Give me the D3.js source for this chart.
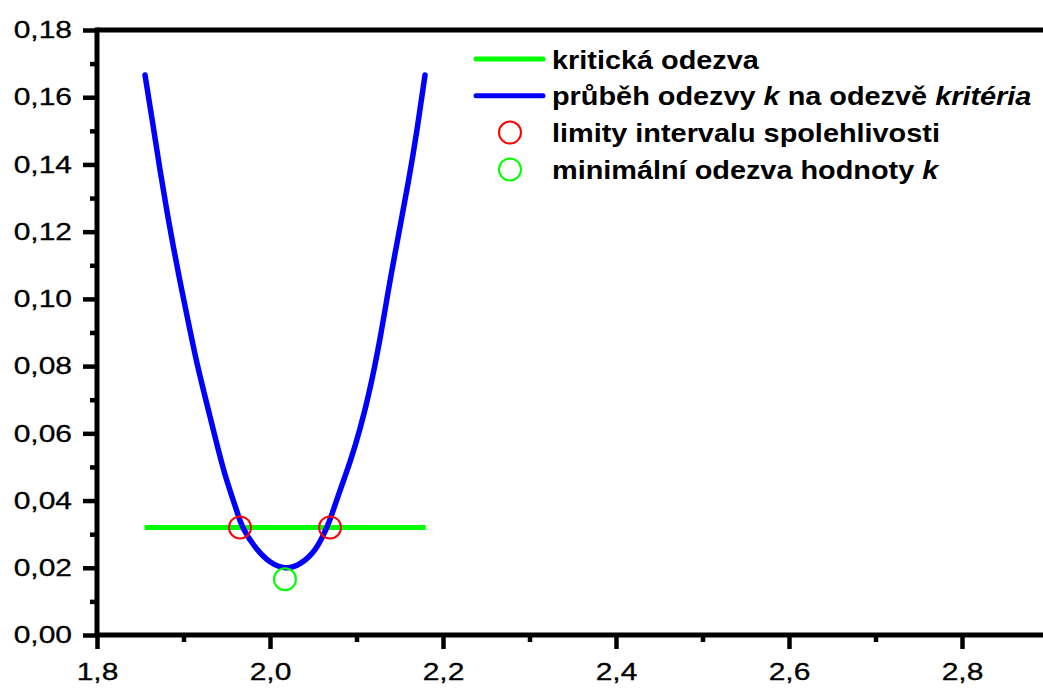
<!DOCTYPE html>
<html>
<head>
<meta charset="utf-8">
<script src="https://cdn.jsdelivr.net/npm/d3@7"></script>
<style>
  html, body { margin: 0; padding: 0; background: #fff; }
  svg { display: block; font-family: "Liberation Sans", Arial, sans-serif; }
</style>
</head>
<body>
<svg id="chart" width="1043" height="689"></svg>
<script>
// ==================
// Data
// ==================
const curveX = [1.8555, 1.8651, 1.8728, 1.8806, 1.8882, 1.8979, 1.9075, 1.9153, 1.9249, 1.9364,
  1.9480, 1.9615, 1.9673, 1.9846, 2.0000, 2.0180, 2.0347, 2.0540, 2.0655, 2.0694,
  2.0809, 2.0925, 2.1040, 2.1156, 2.1272, 2.1368, 2.1425, 2.1503, 2.1599, 2.1696, 2.1792];
const curveY = [0.1666, 0.1512, 0.1383, 0.1264, 0.1155, 0.1026, 0.0907, 0.0809, 0.0709, 0.0590,
  0.0471, 0.0372, 0.0319, 0.0253, 0.0214, 0.0195, 0.0208, 0.0253, 0.0319, 0.0342,
  0.0431, 0.0512, 0.0610, 0.0729, 0.0878, 0.1026, 0.1107, 0.1215, 0.1345, 0.1494, 0.1666];

const criticalX = [1.855, 2.180];
const criticalY = [0.032, 0.032];

const limitX = [1.9653, 2.0694];
const limitY = [0.032, 0.032];

const minX = [2.0173];
const minY = [0.0166];

const xTicks = [1.8, 2.0, 2.2, 2.4, 2.6, 2.8];
const xMinorTicks = [1.9, 2.1, 2.3, 2.5, 2.7, 2.9];
const yTicks = [0, 0.02, 0.04, 0.06, 0.08, 0.10, 0.12, 0.14, 0.16, 0.18];
const yMinorTicks = [0.01, 0.03, 0.05, 0.07, 0.09, 0.11, 0.13, 0.15, 0.17];

const legendLabels = [
  [{ t: 'kritická odezva' }],
  [{ t: 'průběh odezvy ' }, { t: 'k', i: true }, { t: ' na odezvě ' }, { t: 'kritéria', i: true }],
  [{ t: 'limity intervalu spolehlivosti' }],
  [{ t: 'minimální odezva hodnoty ' }, { t: 'k', i: true }]
];

const GREEN = '#00ff00';
const BLUE = '#0000ff';
const RED = '#ff0000';

// ==================
// Layout
// ==================
const AXIS_LEFT = 97;
const AXIS_BOTTOM = 635;
const AXIS_TOP = 30;
const PX_PER_X = 173 / 0.2;
const TEXT_STRETCH = 1.25;

const svg = d3.select('#chart');

const xScale = d3.scaleLinear()
  .domain([1.8, 3.0])
  .range([AXIS_LEFT, AXIS_LEFT + 1.2 * PX_PER_X]);

const yScale = d3.scaleLinear()
  .domain([0, 0.18])
  .range([AXIS_BOTTOM, AXIS_TOP]);

const comma = (fmt) => (v) => d3.format(fmt)(v).replace('.', ',');

// ==================
// Axes
// ==================
const xAxisGroup = svg.append('g')
  .attr('transform', `translate(0, ${AXIS_BOTTOM})`)
  .call(d3.axisBottom(xScale).tickValues(xTicks).tickSize(14).tickPadding(14).tickFormat(comma('.1f')));

const xMinorGroup = svg.append('g')
  .attr('transform', `translate(0, ${AXIS_BOTTOM})`)
  .call(d3.axisBottom(xScale).tickValues(xMinorTicks).tickSize(7).tickFormat(''));

const yAxisGroup = svg.append('g')
  .attr('transform', `translate(${AXIS_LEFT}, 0)`)
  .call(d3.axisLeft(yScale).tickValues(yTicks).tickSize(14).tickPadding(6).tickFormat(comma('.2f')));

const yMinorGroup = svg.append('g')
  .attr('transform', `translate(${AXIS_LEFT}, 0)`)
  .call(d3.axisLeft(yScale).tickValues(yMinorTicks).tickSize(7).tickFormat(''));

[xAxisGroup, xMinorGroup, yAxisGroup, yMinorGroup].forEach(g => {
  g.select('.domain').remove();
  g.selectAll('.tick line')
    .style('stroke', '#000')
    .style('stroke-width', '4.5px');
  g.selectAll('.tick text')
    .attr('font-family', '"Liberation Sans", Arial, sans-serif')
    .attr('font-size', 24)
    .style('fill', '#000')
    .style('stroke', '#000')
    .style('stroke-width', '0.3px')
    .attr('transform', `scale(${TEXT_STRETCH},1)`);
});
xAxisGroup.selectAll('.tick text').attr('x', 0);

// frame: left, bottom, top
const frame = [
  [AXIS_LEFT, AXIS_TOP - 2.5, AXIS_LEFT, AXIS_BOTTOM + 2.5],
  [AXIS_LEFT, AXIS_BOTTOM, xScale(3.0), AXIS_BOTTOM],
  [AXIS_LEFT, AXIS_TOP, xScale(3.0), AXIS_TOP]
];
svg.selectAll('line.frame')
  .data(frame)
  .join('line')
  .attr('class', 'frame')
  .attr('x1', d => d[0]).attr('y1', d => d[1])
  .attr('x2', d => d[2]).attr('y2', d => d[3])
  .style('stroke', '#000')
  .style('stroke-width', '5px');

// ==================
// Series
// ==================
const line = d3.line()
  .x(d => xScale(d[0]))
  .y(d => yScale(d[1]));

svg.append('path')
  .attr('d', line.curve(d3.curveLinear)(d3.zip(criticalX, criticalY)))
  .style('fill', 'none')
  .style('stroke', GREEN)
  .style('stroke-width', '5px');

svg.append('path')
  .attr('d', line.curve(d3.curveBasis)(d3.zip(curveX, curveY)))
  .style('fill', 'none')
  .style('stroke', BLUE)
  .style('stroke-width', '5.5px')
  .style('stroke-linecap', 'round')
  .style('stroke-linejoin', 'round');

svg.selectAll('circle.limit')
  .data(d3.zip(limitX, limitY))
  .join('circle')
  .attr('class', 'limit')
  .attr('cx', d => xScale(d[0]))
  .attr('cy', d => yScale(d[1]))
  .attr('r', 11)
  .style('fill', 'none')
  .style('stroke', RED)
  .style('stroke-width', '2px');

svg.selectAll('circle.minimum')
  .data(d3.zip(minX, minY))
  .join('circle')
  .attr('class', 'minimum')
  .attr('cx', d => xScale(d[0]))
  .attr('cy', d => yScale(d[1]))
  .attr('r', 11)
  .style('fill', 'none')
  .style('stroke', GREEN)
  .style('stroke-width', '2px');

// ==================
// Legend
// ==================
const LEGEND_TOP = 59;
const LEGEND_STEP = 36.8;
const legend = svg.append('g');

legendLabels.forEach((parts, i) => {
  const y = LEGEND_TOP + i * LEGEND_STEP;
  if (i < 2) {
    legend.append('line')
      .attr('x1', 476).attr('x2', 543)
      .attr('y1', y).attr('y2', y)
      .style('stroke', i === 0 ? GREEN : BLUE)
      .style('stroke-width', '5px')
      .style('stroke-linecap', 'round');
  } else {
    legend.append('circle')
      .attr('cx', 510).attr('cy', y).attr('r', 11)
      .style('fill', 'none')
      .style('stroke', i === 2 ? RED : GREEN)
      .style('stroke-width', '2px');
  }
  const text = legend.append('text')
    .attr('transform', `translate(552, ${y + 9.5}) scale(1.11,1)`)
    .attr('font-size', 26)
    .attr('font-weight', 'bold')
    .style('fill', '#000');
  parts.forEach(p => {
    text.append('tspan')
      .attr('font-style', p.i ? 'italic' : 'normal')
      .attr('xml:space', 'preserve')
      .text(p.t);
  });
});
</script>
</body>
</html>
